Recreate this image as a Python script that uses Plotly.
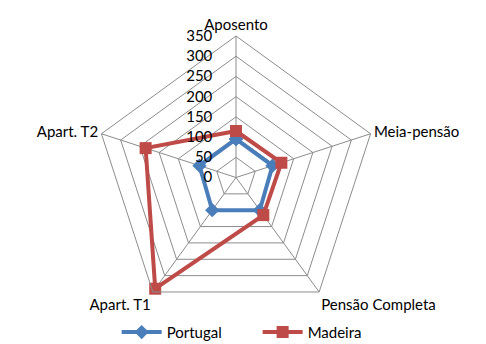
import plotly.graph_objects as go

categories = ["Aposento", "Meia-pensão", "Pensão Completa", "Apart. T1", "Apart. T2"]
portugal = [95, 95, 100, 100, 95]
madeira = [115, 118, 115, 340, 235]
radial_ticks = [0, 50, 100, 150, 200, 250, 300, 350]

BLUE = "#4A7EBB"
RED = "#BE4B48"
GRID = "#8C8C8C"
FONT = "Lato, 'Liberation Sans', sans-serif"

# transparent trailing padding keeps the radial labels clear of the spoke
PAD = "<span style='color:rgba(0,0,0,0)'>00.</span>"
radial_text = [f"{v}{PAD}" for v in radial_ticks]


def closed(vals):
    return list(vals) + [vals[0]]


fig = go.Figure()
fig.add_trace(go.Scatterpolar(
    r=closed(portugal), theta=closed(categories), name="Portugal",
    mode="lines+markers",
    line=dict(color=BLUE, width=4),
    marker=dict(symbol="diamond", size=11, color=BLUE),
))
fig.add_trace(go.Scatterpolar(
    r=closed(madeira), theta=closed(categories), name="Madeira",
    mode="lines+markers",
    line=dict(color=RED, width=4),
    marker=dict(symbol="square", size=12, color=RED),
))

cx, cy, R = 236, 177.5, 141.5
W, H = 486, 344
fig.update_layout(
    width=W, height=H,
    margin=dict(l=0, r=0, t=0, b=0, autoexpand=False),
    paper_bgcolor="white",
    font=dict(family=FONT, size=14, color="black"),
    polar=dict(
        domain=dict(x=[(cx - R) / W, (cx + R) / W],
                    y=[1 - (cy + R) / H, 1 - (cy - R) / H]),
        bgcolor="white",
        gridshape="linear",
        angularaxis=dict(
            rotation=90, direction="clockwise",
            categoryorder="array", categoryarray=categories,
            showline=True, linecolor=GRID, linewidth=1,
            gridcolor=GRID, gridwidth=1,
            ticks="", tickfont=dict(size=15, family=FONT, color="black"),
        ),
        radialaxis=dict(
            range=[0, 350], tickmode="array",
            tickvals=radial_ticks, ticktext=radial_text,
            angle=90, tickangle=90, side="counterclockwise",
            showline=False, ticks="",
            gridcolor=GRID, gridwidth=1,
            tickfont=dict(size=15, family=FONT, color="black"),
        ),
    ),
    showlegend=True,
    legend=dict(
        orientation="h", x=0.24, xanchor="left", y=0.082, yanchor="top",
        entrywidth=86, entrywidthmode="pixels", itemwidth=40,
        font=dict(size=15, family=FONT, color="black"),
    ),
)

fig.write_html("out.html")
